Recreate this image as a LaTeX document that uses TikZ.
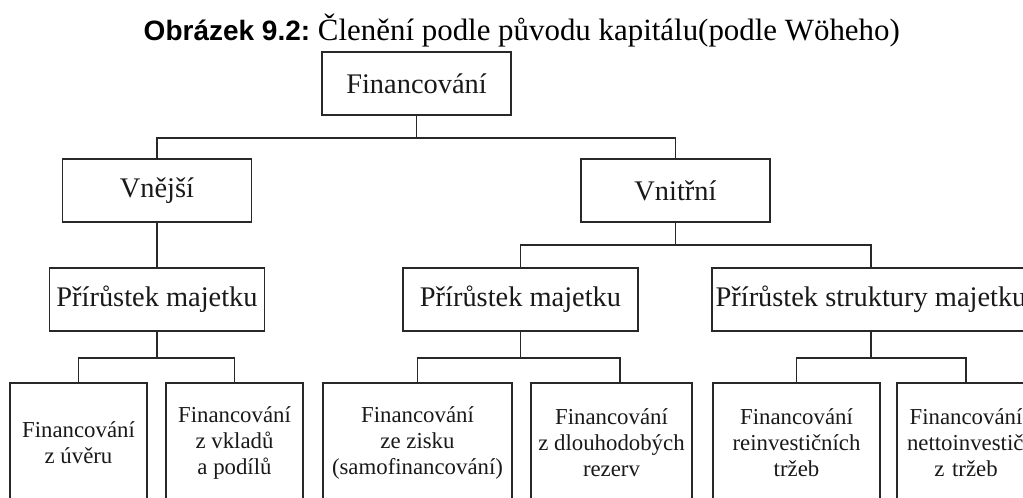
\documentclass[tikz,border=0pt]{standalone}
\usepackage{fontspec}
\setmainfont{Liberation Serif}
\newfontfamily\titlesans{Liberation Sans}
\definecolor{linegray}{RGB}{40,40,40}
\definecolor{textgray}{RGB}{25,25,25}
\begin{document}
\begin{tikzpicture}[x=1pt,y=-1pt,
  conn/.style={draw=linegray, line width=1.5pt},
  box/.style={draw=linegray, line width=1.5pt, inner sep=0pt, align=center, text=textgray},
  lvl/.style={box, font=\fontsize{28.4}{34}\selectfont, minimum height=63pt},
  leaf/.style={box, font=\fontsize{22.8}{26}\selectfont, minimum height=120pt},
]
\useasboundingbox (0,0) rectangle (1023,498);
\fill[white] (0,0) rectangle (1023,498);
\clip (0,0) rectangle (1023,498);

% title
\node[anchor=base east, inner sep=0pt, text=black] (title) at (900,40)
  {{\titlesans\bfseries\fontsize{28}{34}\selectfont Obrázek 9.2:}\fontsize{30.9}{36}\selectfont\ Členění podle původu kapitálu(podle Wöheho)};

% upper levels
\node[lvl, minimum width=189pt] (F0) at (416.5,83.5) {Financování};
\node[lvl, minimum width=189pt] (V1) at (157,190.5) {Vnější};
\node[lvl, minimum width=189pt] (V2) at (675.5,190.5) {Vnitřní};
\node[lvl, minimum width=215pt] (P1) at (157,299.5) {Přírůstek majetku};
\node[lvl, minimum width=235pt] (P2) at (520.5,299.5) {Přírůstek majetku};
\node[lvl, minimum width=318pt] (P3) at (871,299.5) {Přírůstek struktury majetku};

% leaves
\node[leaf, minimum width=137pt] (B1) at (78.5,443) {Financování\\z úvěru};
\node[leaf, minimum width=137pt] (B2) at (234.5,443) {Financování\\z vkladů\\a podílů};
\node[leaf, minimum width=189pt] (B3) at (417.5,443) {Financování\\ze zisku\\(samofinancování)};
\node[leaf, minimum width=161pt] (B4) at (611.5,443) {Financování\\z dlouhodobých\\rezerv};
\node[leaf, minimum width=167pt] (B5) at (796.5,443) {Financování\\reinvestičních\\tržeb};
\node[leaf, text width=118pt, inner xsep=10pt] (B6) at (966,443) {Financování\\\mbox{nettoinvestičních}\\z tržeb};

% connectors
\draw[conn] (F0.south) -- ++(0,22) -| (V1.north);
\draw[conn] (F0.south) ++(0,22) -| (V2.north);
\draw[conn] (V1.south) -- (P1.north);
\draw[conn] (V2.south) -- ++(0,22) -| (P2.north);
\draw[conn] (V2.south) ++(0,22) -| (P3.north);
\draw[conn] (P1.south) -- ++(0,26) -| (B1.north);
\draw[conn] (P1.south) ++(0,26) -| (B2.north);
\draw[conn] (P2.south) -- ++(0,26) -| (B3.north);
\draw[conn] (P2.south) ++(0,26) -| ([xshift=8.5pt]B4.north);
\draw[conn] (P3.south) -- ++(0,26) -| (B5.north);
\draw[conn] (P3.south) ++(0,26) -| (B6.north);
\end{tikzpicture}
\end{document}
